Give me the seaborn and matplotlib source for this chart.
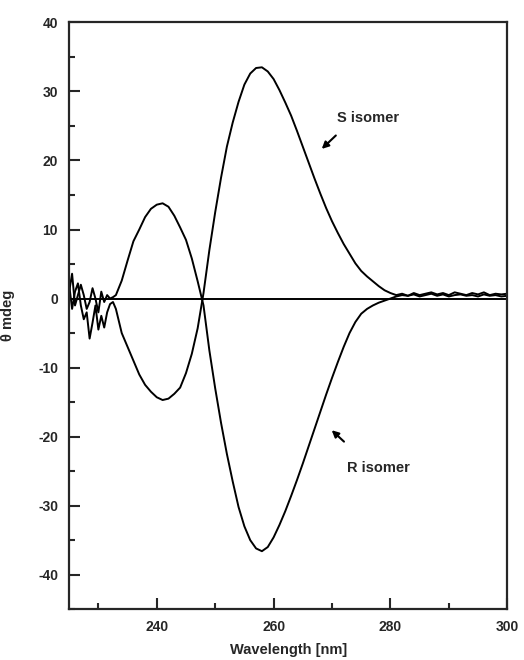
import numpy as np
import pandas as pd
import seaborn as sns
import matplotlib.pyplot as plt
from matplotlib.ticker import MultipleLocator

# wavelength grid (nm): noisy start at 0.5 nm steps, then 1 nm
wl_noise = [225.0, 225.5, 226.0, 226.5, 227.0, 227.5, 228.0, 228.5, 229.0,
            229.5, 230.0, 230.5, 231.0, 231.5, 232.0, 232.5, 233.0]
wl_main = list(range(234, 301))

r_noise = [1.0, 3.6, -1.0, 0.5, 2.0, 0.5, -1.5, -0.5, 1.5,
           0.0, -2.0, 1.0, -0.5, 0.5, 0.0, 0.2, 0.5]
s_noise = [2.0, -1.5, 1.0, 2.2, -1.0, -3.0, -2.0, -5.8, -3.5,
           -1.0, -4.5, -2.5, -4.2, -2.0, -0.8, -0.5, -1.5]

# 234 .. 300
r_main = [2.6, 5.5, 8.3, 10.0, 11.8, 13.0, 13.6, 13.8, 13.3, 12.0,
          10.3, 8.5, 5.8, 2.5, -1.0, -7.5, -13.0, -18.0, -22.5, -26.5,
          -30.2, -33.0, -35.0, -36.2, -36.6, -36.0, -34.6, -32.8, -30.8, -28.6,
          -26.3, -23.9, -21.4, -18.9, -16.4, -13.9, -11.5, -9.2, -7.0, -5.0,
          -3.4, -2.2, -1.5, -1.0, -0.6, -0.3, 0.0, 0.3, 0.5, 0.4,
          0.6, 0.3, 0.5, 0.7, 0.4, 0.6, 0.3, 0.5, 0.6, 0.4,
          0.5, 0.3, 0.6, 0.4, 0.5, 0.3, 0.4]
s_main = [-5.0, -7.0, -9.0, -11.0, -12.5, -13.5, -14.3, -14.7, -14.5, -13.8,
          -12.9, -10.8, -8.0, -4.3, 0.8, 7.0, 12.5, 17.5, 22.0, 25.5,
          28.5, 31.0, 32.6, 33.4, 33.5, 32.9, 31.8, 30.2, 28.4, 26.5,
          24.3, 22.0, 19.7, 17.4, 15.2, 13.1, 11.2, 9.5, 7.9, 6.5,
          5.1, 4.0, 3.2, 2.5, 1.8, 1.2, 0.8, 0.5, 0.7, 0.4,
          0.8, 0.5, 0.7, 0.9, 0.6, 0.8, 0.5, 0.9, 0.7, 0.5,
          0.8, 0.6, 0.9, 0.5, 0.7, 0.6, 0.7]

wavelength = wl_noise + wl_main
r_isomer = r_noise + r_main
s_isomer = s_noise + s_main

df = pd.DataFrame({"wl": wavelength * 2,
                   "theta": r_isomer + s_isomer,
                   "isomer": ["R"] * len(wavelength) + ["S"] * len(wavelength)})

sns.set_style("ticks")
plt.rcParams['font.family'] = ['Liberation Sans', 'DejaVu Sans']
plt.rcParams['axes.unicode_minus'] = False

fig = plt.figure(figsize=(5.24, 6.6), dpi=100)
ax = fig.add_axes([0.132, 0.077, 0.836, 0.889])

for iso in ["R", "S"]:
    sub = df[df.isomer == iso]
    sns.lineplot(x=sub.wl, y=sub.theta, color="black", lw=1.4,
                 sort=False, ax=ax, legend=False)
ax.axhline(0, color="black", lw=1.4)

ax.set_xlim(225, 300)
ax.set_ylim(-45, 40)
ax.xaxis.set_major_locator(MultipleLocator(20))
ax.xaxis.set_minor_locator(MultipleLocator(10))
ax.yaxis.set_major_locator(MultipleLocator(10))
ax.yaxis.set_minor_locator(MultipleLocator(5))
ax.tick_params(which="both", direction="in", width=1.5, labelsize=10)
ax.tick_params(which="major", length=8, pad=8)
ax.tick_params(which="minor", length=4)
for lab in ax.get_xticklabels() + ax.get_yticklabels():
    lab.set_fontweight("bold")
for sp in ax.spines.values():
    sp.set_linewidth(1.6)

ax.set_xlabel("Wavelength [nm]", fontsize=10.5, fontweight="bold", labelpad=6)
ax.set_ylabel("θ mdeg", fontsize=10.5, fontweight="bold")
ax.yaxis.set_label_coords(-0.123, 0.5)

ax.text(276.1, 26.2, "S isomer", fontsize=10.5, fontweight="bold",
        ha="center", va="center")
ax.annotate("", xy=(267.9, 21.4), xytext=(271.0, 23.9),
            arrowprops=dict(arrowstyle="-|>", color="black", lw=1.5,
                            mutation_scale=10))
ax.text(278.0, -24.6, "R isomer", fontsize=10.5, fontweight="bold",
        ha="center", va="center")
ax.annotate("", xy=(269.6, -18.8), xytext=(272.4, -21.0),
            arrowprops=dict(arrowstyle="-|>", color="black", lw=1.5,
                            mutation_scale=10))

fig.savefig("out.png", dpi=100)
